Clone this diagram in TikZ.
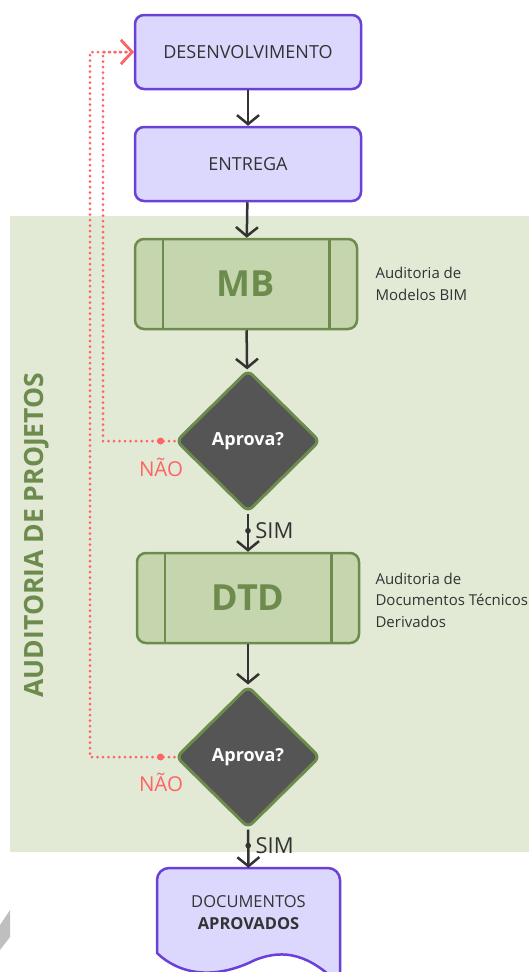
\documentclass[tikz,border=0pt]{standalone}
\usepackage{fontspec}
\setmainfont{Open Sans}
\usetikzlibrary{shapes.geometric,arrows.meta}
\definecolor{lilas}{HTML}{DCD8FD}
\definecolor{roxo}{HTML}{6B3FD9}
\definecolor{fundo}{HTML}{E2EAD6}
\definecolor{verdeclaro}{HTML}{C5D6AE}
\definecolor{verde}{HTML}{6E8B4E}
\definecolor{cinza}{HTML}{555555}
\definecolor{escuro}{HTML}{333333}
\definecolor{vermelho}{HTML}{FF6464}
\begin{document}
\begin{tikzpicture}[x=1pt,y=-1pt,
  etapa/.style={draw=roxo, fill=lilas, line width=2.5pt, rounded corners=9pt,
    minimum width=226pt, minimum height=74pt, text=escuro,
    font=\fontsize{18}{21}\selectfont},
  auditoria/.style={draw=verde, fill=verdeclaro, line width=2.5pt, rounded corners=9pt,
    minimum width=222pt, minimum height=90pt, text=verde,
    font=\fontsize{36}{40}\bfseries},
  decisao/.style={shape=diamond, draw=verde, fill=cinza, line width=3pt, rounded corners=6pt,
    minimum width=144pt, minimum height=142pt, inner sep=0pt, text=white,
    font=\fontsize{18}{21}\bfseries},
  nota/.style={anchor=west, align=left, text=escuro, font=\fontsize{15}{21.5}\selectfont},
  flecha/.style={draw=escuro, line width=2.5pt, -{Straight Barb[length=9pt,width=22pt]}},
  retorno/.style={draw=vermelho, line width=3pt, line cap=round, dash pattern=on 0pt off 5.5pt,
    -{Straight Barb[length=11pt,width=24pt,line width=2.5pt]}},
  sim/.style={text=escuro, font=\fontsize{22}{25}\selectfont, inner sep=2pt},
  nao/.style={text=vermelho, font=\fontsize{20.5}{24}\selectfont}]
\useasboundingbox (0,0) rectangle (529,972);

% faixa de auditoria
\fill[fundo] (10,216) rectangle (529,852);
\node[rotate=90, text=verde, font=\fontsize{26.5}{30}\bfseries] (faixa) at (37,535) {AUDITORIA DE PROJETOS};
\fill[black!25] (0,925) -- (10,910) -- (10,937) -- (0,950) -- cycle;

% etapas
\node[etapa] (des) at (248,52) {DESENVOLVIMENTO};
\node[etapa] (ent) at (248,164) {ENTREGA};
\node[auditoria] (mb) at (246,284) {MB};
\draw[verde, line width=2.5pt] ([xshift=29pt]mb.north west) -- ([xshift=29pt]mb.south west);
\draw[verde, line width=2.5pt] ([xshift=-29pt]mb.north east) -- ([xshift=-29pt]mb.south east);
\node[nota] (notamb) at (372,284) {Auditoria de\\Modelos BIM};
\node[decisao] (ap1) at (248,441) {Aprova?};
\node[auditoria] (dtd) at (248,598) {DTD};
\draw[verde, line width=2.5pt] ([xshift=29pt]dtd.north west) -- ([xshift=29pt]dtd.south west);
\draw[verde, line width=2.5pt] ([xshift=-29pt]dtd.north east) -- ([xshift=-29pt]dtd.south east);
\node[nota] (notadtd) at (372,600) {Auditoria de\\Documentos Técnicos\\Derivados};
\node[decisao] (ap2) at (248,757) {Aprova?};

% documento final
\node[minimum width=183pt, minimum height=100pt, inner sep=0pt] (doc) at (248.5,918) {};
\draw[roxo, fill=lilas, line width=2.5pt]
  (157,953) [rounded corners=12pt] -- (157,868) -- (340,868) [sharp corners] -- (340,985)
  .. controls (310,955) and (285,948) .. (255,960)
  .. controls (215,980) and (180,975) .. (157,953) -- cycle;
\node[align=center, text=escuro, font=\fontsize{16.5}{22}\selectfont] (doctxt) at (248.5,913)
  {DOCUMENTOS\\\textbf{APROVADOS}};

% fluxo
\draw[flecha] (des) -- (ent);
\draw[flecha] (ent) -- (mb);
\draw[flecha] (mb) -- (ap1);
\draw[flecha] (ap1.south) -- node[pos=.45, circle, fill=escuro, inner sep=2pt,
  label={[sim]right:SIM}] {} (dtd.north);
\draw[flecha] (dtd) -- (ap2);
\draw[flecha] (ap2.south) -- node[pos=.42, circle, fill=escuro, inner sep=2pt,
  label={[sim]right:SIM}] {} (doc.north);

% retornos
\coordinate (volta1) at (103,52);
\coordinate (volta2) at (90,52);
\draw[retorno] (ap1.west) -| (volta1) -- (des.west);
\draw[retorno] (ap2.west) -| (volta2) -- (des.west);
\fill[vermelho] ([xshift=-14pt]ap1.west) circle (3.5pt);
\fill[vermelho] ([xshift=-14pt]ap2.west) circle (3.5pt);
\node[nao] (nao1) at (161,467) {NÃO};
\node[nao] (nao2) at (161,782) {NÃO};
\end{tikzpicture}
\end{document}
